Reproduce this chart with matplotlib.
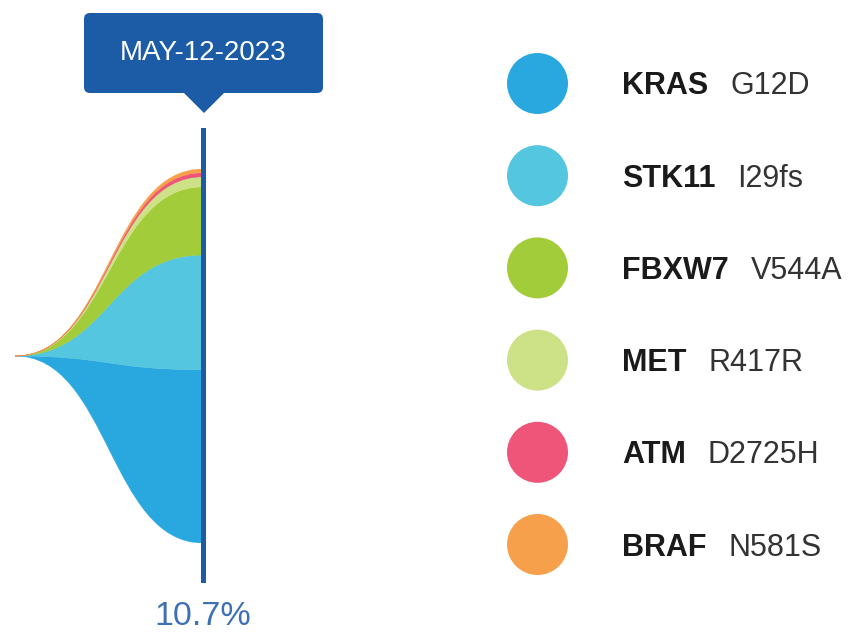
import matplotlib
matplotlib.use("Agg")
import matplotlib.pyplot as plt
import numpy as np
from matplotlib.path import Path
from matplotlib.patches import PathPatch, FancyBboxPatch, Polygon, Circle

# clone data at the sampled date
genes = ['KRAS', 'STK11', 'FBXW7', 'MET', 'ATM', 'BRAF']
mutations = ['G12D', 'I29fs', 'V544A', 'R417R', 'D2725H', 'N581S']
fractions = [46.3, 30.7, 18.2, 2.7, 1.1, 1.0]
colors = ['#29a8e0', '#55c6e0', '#a3cc3a', '#cde287', '#ef5578', '#f7a04b']
date_label = 'MAY-12-2023'
total_label = '10.7%'

plt.rcParams['font.family'] = ['Liberation Sans', 'DejaVu Sans']

W, H = 859, 635
fig = plt.figure(figsize=(W / 100, H / 100), dpi=100)

# fish plot axes (time 0 -> sample date)
ax = fig.add_axes([15 / W, (H - 543) / H, 188 / W, 374 / H])
ax.set_xlim(0, 1)
ax.set_ylim(-50, 50)
ax.axis('off')

bounds = -sum(fractions) / 2 + np.concatenate([[0], np.cumsum(fractions)])
for i, c in enumerate(colors):
    lo, hi = bounds[i], bounds[i + 1]
    verts = [(0, 0), (0.5, 0), (0.5, lo), (1, lo),
             (1, hi), (0.5, hi), (0.5, 0), (0, 0), (0, 0)]
    codes = [Path.MOVETO, Path.CURVE4, Path.CURVE4, Path.CURVE4,
             Path.LINETO, Path.CURVE4, Path.CURVE4, Path.CURVE4, Path.CLOSEPOLY]
    ax.add_patch(PathPatch(Path(verts, codes), facecolor=c, edgecolor=c, lw=0.3))

ax.axvline(1, ymin=-0.099, ymax=1.104, color='#1c5ca6', lw=3.6, clip_on=False)

# overlay in pixel units for tooltip, label and legend
ov = fig.add_axes([0, 0, 1, 1])
ov.set_xlim(0, W)
ov.set_ylim(H, 0)
ov.axis('off')

ov.add_patch(FancyBboxPatch((90, 19), 227, 68, boxstyle='round,pad=6',
                            facecolor='#1c5ca6', edgecolor='none'))
ov.add_patch(Polygon([(183, 92), (225, 92), (204, 113)], closed=True,
                     facecolor='#1c5ca6', edgecolor='none'))
ov.text(203.5, 53, date_label, color='white', fontsize=20,
        ha='center', va='center')

ov.text(203, 625, total_label, color='#3d70b5', fontsize=24.5,
        ha='center', va='baseline')

for i, (g, m, c) in enumerate(zip(genes, mutations, colors)):
    cy = 83.5 + i * 92.2
    ov.add_patch(Circle((537.5, cy), 30.5, facecolor=c, edgecolor='none'))
    t = ov.text(622, cy + 11, g, fontsize=22, fontweight='bold',
                color='#1a1a1a', ha='left', va='baseline')
    ov.annotate(m, xy=(1, 0), xycoords=t, xytext=(15.8, 0),
                textcoords='offset points', fontsize=22, color='#333333',
                ha='left', va='bottom')

fig.savefig('out.png', dpi=100)
